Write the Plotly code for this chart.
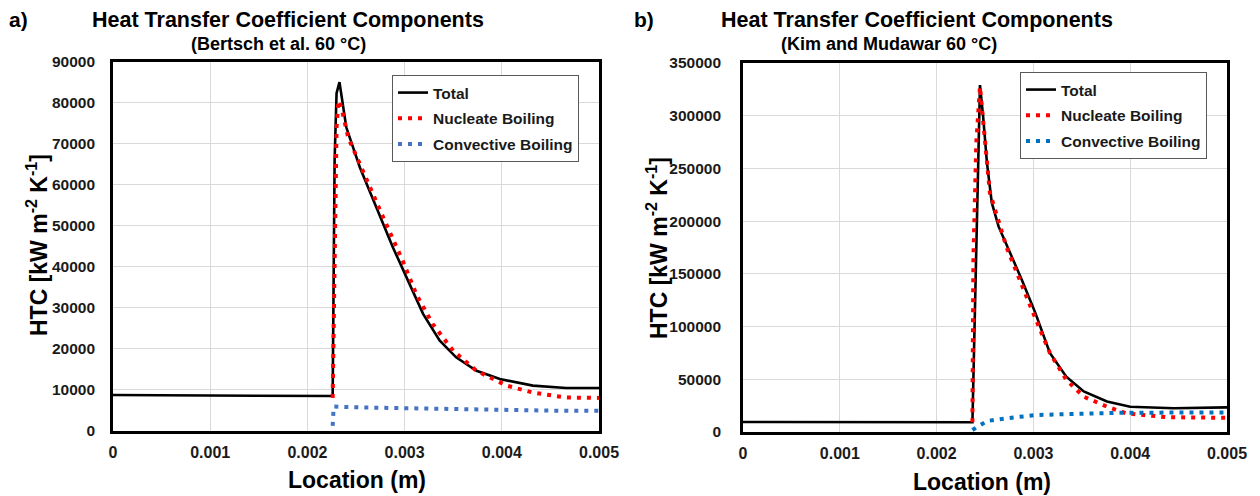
import plotly.graph_objects as go

W, H = 1260, 496

# ---------------- Panel a) Bertsch et al. 60 °C ----------------
a_total_x = [0, 0.0005, 0.001, 0.0015, 0.002, 0.00226, 0.00228, 0.0023, 0.00233, 0.0024, 0.00254,
             0.00271, 0.00288, 0.00302, 0.00319, 0.00336, 0.00353, 0.00374, 0.00398, 0.00432,
             0.00466, 0.005]
a_total_y = [8700, 8650, 8600, 8550, 8500, 8450, 66000, 82300, 85000, 74000, 64200,
             54500, 44700, 37400, 28500, 22000, 17900, 14600, 12600, 11000,
             10400, 10400]

a_nuc_x = [0.00226, 0.00228, 0.0023, 0.00232, 0.00235, 0.00242, 0.00261, 0.00281, 0.00298,
           0.00312, 0.00329, 0.0035, 0.00374, 0.00405, 0.00432, 0.00466, 0.005]
a_nuc_y = [8000, 50000, 74000, 80500, 78800, 71500, 61000, 50400, 41500,
           33300, 26000, 19500, 14600, 11000, 9300, 8100, 8000]

a_conv_x = [0.00226, 0.00227, 0.0025, 0.003, 0.0035, 0.004, 0.0045, 0.005]
a_conv_y = [1200, 5900, 5700, 5450, 5250, 5050, 4900, 4850]

# ---------------- Panel b) Kim and Mudawar 60 °C ----------------
b_total_x = [0, 0.001, 0.002, 0.00237, 0.002448, 0.00248, 0.00252, 0.00257, 0.00264, 0.00276,
             0.00288, 0.00302, 0.00317, 0.00334, 0.00352, 0.00376, 0.004, 0.00445, 0.005]
b_total_y = [9500, 9400, 9300, 9200, 329000, 300000, 255500, 217500, 195000, 170000,
             144500, 113000, 75000, 52500, 38500, 29000, 24000, 22500, 23400]

b_nuc_x = [0.00237, 0.00238, 0.00241, 0.002448, 0.00255, 0.00272, 0.00297, 0.00317, 0.00334,
           0.00352, 0.00376, 0.00396, 0.00438, 0.005]
b_nuc_y = [9200, 163000, 274000, 327500, 227000, 176000, 119000, 75000, 49500,
           33500, 24000, 17700, 14000, 13500]

b_conv_x = [0.00237, 0.00252, 0.00272, 0.00303, 0.00341, 0.00393, 0.00445, 0.005]
b_conv_y = [1900, 10400, 13000, 16100, 17100, 18300, 18400, 18600]

series_names = ["Total", "Nucleate Boiling", "Convective Boiling"]
x_ticks = [0, 0.001, 0.002, 0.003, 0.004, 0.005]

FONT = "Liberation Sans, Arial, sans-serif"
TXT = "#1a1a1a"


def fx(p):
    return p / W


def fy(p):
    return 1 - p / H


fig = go.Figure()

panels = [
    ("x", "y", "legend", (a_total_x, a_total_y), (a_nuc_x, a_nuc_y), (a_conv_x, a_conv_y), "#4472C4"),
    ("x2", "y2", "legend2", (b_total_x, b_total_y), (b_nuc_x, b_nuc_y), (b_conv_x, b_conv_y), "#0070C0"),
]
for xa, ya, lg, tot, nuc, conv, blue in panels:
    fig.add_trace(go.Scatter(x=tot[0], y=tot[1], mode="lines", name=series_names[0],
                             line=dict(color="black", width=2.6), xaxis=xa, yaxis=ya,
                             legend=lg, legendgroup=lg + "1"))
    fig.add_trace(go.Scatter(x=nuc[0], y=nuc[1], mode="lines", name=series_names[1],
                             line=dict(color="#FF0000", width=4, dash="4px,6px"), xaxis=xa, yaxis=ya,
                             legend=lg, legendgroup=lg + "2"))
    fig.add_trace(go.Scatter(x=conv[0], y=conv[1], mode="lines", name=series_names[2],
                             line=dict(color=blue, width=4, dash="4px,6px"), xaxis=xa, yaxis=ya,
                             legend=lg, legendgroup=lg + "3"))

axis_common = dict(showline=True, mirror=True, linecolor="black", linewidth=2.6,
                   showgrid=True, gridcolor="#d9d9d9", gridwidth=1, zeroline=False, ticks="",
                   automargin=False)
xtick_font = dict(family=FONT, size=16, color=TXT, weight="bold")
ytick_font = dict(family=FONT, size=15.5, color=TXT, weight="bold")

legend_common = dict(bgcolor="white", bordercolor="#595959", borderwidth=1,
                     font=dict(family=FONT, size=15.5, color=TXT, weight="bold"),
                     traceorder="grouped", tracegroupgap=2.5, xanchor="left", yanchor="top",
                     itemwidth=30)

fig.update_layout(
    width=W, height=H, autosize=False,
    margin=dict(l=0, r=0, t=0, b=0, pad=0, autoexpand=False),
    paper_bgcolor="white", plot_bgcolor="white",
    showlegend=True,
    xaxis=dict(domain=[fx(113), fx(599)], range=[0, 0.005], tickvals=x_ticks, anchor="y",
               ticklabelstandoff=5, tickfont=xtick_font, **axis_common),
    yaxis=dict(domain=[fy(430.7), fy(61.7)], range=[0, 90000], dtick=10000, tickformat="d",
               anchor="x", ticklabelstandoff=12, tickfont=ytick_font, **axis_common),
    xaxis2=dict(domain=[fx(743), fx(1227)], range=[0, 0.005], tickvals=x_ticks, anchor="y2",
                ticklabelstandoff=5, tickfont=xtick_font, **axis_common),
    yaxis2=dict(domain=[fy(432), fy(63)], range=[0, 350000], dtick=50000, tickformat="d",
                anchor="x2", ticklabelstandoff=16, tickfont=ytick_font, **axis_common),
    legend=dict(x=fx(392), y=fy(75), **legend_common),
    legend2=dict(x=fx(1020), y=fy(72), **legend_common),
)

ann = []


def add_text(text, x, y, size, angle=0):
    ann.append(dict(text=text, x=fx(x), y=fy(y), xref="paper", yref="paper",
                    showarrow=False, textangle=angle, xanchor="center", yanchor="middle",
                    font=dict(family=FONT, size=size, color="black", weight="bold")))


add_text("a)", 18, 20, 21)
add_text("b)", 644, 20, 21)
add_text("Heat Transfer Coefficient Components", 288, 20, 21.5)
add_text("Heat Transfer Coefficient Components", 917, 20, 21.5)
add_text("(Bertsch et al. 60 °C)", 278, 44, 18)
add_text("(Kim and Mudawar 60 °C)", 889, 44, 18)
add_text("HTC [kW m<sup>-2</sup> K<sup>-1</sup>]", 37, 245, 23, -90)
add_text("HTC [kW m<sup>-2</sup> K<sup>-1</sup>]", 657, 248, 23, -90)
add_text("Location (m)", 357, 480, 23)
add_text("Location (m)", 982, 482, 23)
fig.update_layout(annotations=ann)

fig.write_html("out.html", config={"displayModeBar": False},
               post_script="document.body.style.margin='0';document.body.style.overflow='hidden';")
